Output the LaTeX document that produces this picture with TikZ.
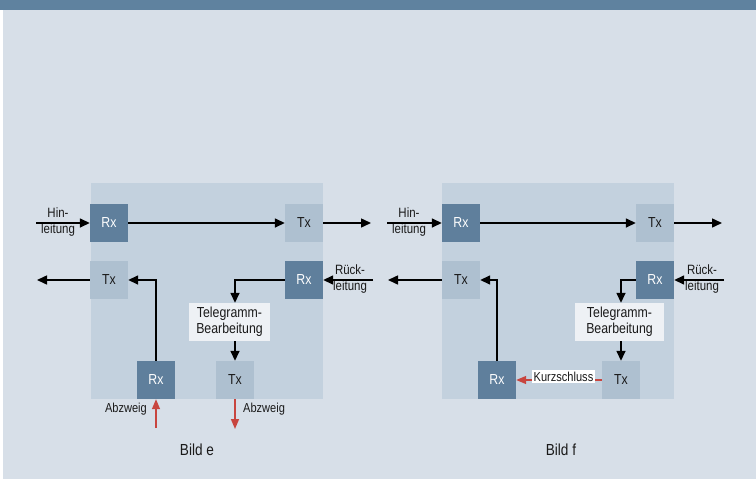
\documentclass[tikz,border=0pt]{standalone}
\usepackage{fontspec}
\setmainfont{Liberation Sans}[FakeStretch=0.85]
\usetikzlibrary{arrows.meta}
\definecolor{band}{HTML}{5F829F}
\definecolor{bg}{HTML}{D7DFE8}
\definecolor{panel}{HTML}{C3D1DE}
\definecolor{darkb}{HTML}{5F7F9C}
\definecolor{lightb}{HTML}{AEC0D0}
\definecolor{telefill}{HTML}{EEF1F5}
\definecolor{redarr}{HTML}{C8453F}
\definecolor{txt}{HTML}{1A1A1A}
\tikzset{
  darkbox/.style={fill=darkb, text=white, minimum width=38pt, minimum height=38pt, inner sep=0pt, font=\fontsize{14.5}{15}\selectfont},
  lightbox/.style={fill=lightb, text=txt, minimum width=38pt, minimum height=38pt, inner sep=0pt, font=\fontsize{14.5}{15}\selectfont},
  telebox/.style={fill=telefill, text=txt, minimum height=38pt, inner sep=0pt, align=center, font=\fontsize{14.5}{16}\selectfont},
  lbl/.style={text=txt, inner sep=0pt, align=center, font=\fontsize{13.5}{16.5}\selectfont},
  small/.style={text=txt, inner sep=0pt, font=\fontsize{13}{14}\selectfont},
  title/.style={text=txt, inner sep=0pt, font=\fontsize{16}{17}\selectfont},
  arr/.style={line width=1.5pt, draw=black, -{Triangle[length=10pt,width=9pt]}},
  rarr/.style={line width=1.5pt, draw=redarr, -{Triangle[length=10pt,width=8pt]}},
}
\begin{document}
\begin{tikzpicture}[x=1pt,y=-1pt]
\useasboundingbox (0,0) rectangle (756,479);
\fill[white] (0,0) rectangle (756,479);
\fill[bg] (3,10) rectangle (756,479);
\fill[band] (0,0) rectangle (756,10);
% ---------- panel e ----------
\fill[panel] (91,183) rectangle (323,399);
\node[darkbox]  (rxA) at (109,223) {Rx};
\node[lightbox] (txA) at (304,223) {Tx};
\node[lightbox] (txB) at (109,280) {Tx};
\node[darkbox]  (rxB) at (304,280) {Rx};
\node[telebox, minimum width=81pt] (teleE) at (229.5,322) {Telegramm-\\Bearbeitung};
\node[darkbox]  (rxC) at (156,380) {Rx};
\node[lightbox] (txC) at (235,380) {Tx};
\coordinate (hinE) at (36,223);
\coordinate (outE) at (371,223);
\coordinate (leftE) at (37,280);
\coordinate (rueckE) at (373,280);
\coordinate (abzInE) at (156,428);
\coordinate (abzOutE) at (235,429);
\node[lbl] (hinlblE) at (58,222) {Hin-\\leitung};
\node[lbl] (ruecklblE) at (350,279) {Rück-\\leitung};
\draw[arr] (hinE) -- (rxA);
\draw[arr] (rxA) -- (txA);
\draw[arr] (txA) -- (outE);
\draw[arr] (txB) -- (leftE);
\draw[arr] (rxC.north) |- (txB.east);
\draw[arr] (rueckE) -- (rxB.east);
\draw[arr] (rxB.west) -| (txC.center |- teleE.north);
\draw[arr] (txC.center |- teleE.south) -- (txC.north);
\draw[rarr] (abzInE) -- (rxC.south);
\draw[rarr] (txC.south) -- (abzOutE);
\node[small, anchor=east] (abzlblA) at (147,409) {Abzweig};
\node[small, anchor=west] (abzlblB) at (243,409) {Abzweig};
\node[title] (bildE) at (197,450) {Bild e};
% ---------- panel f ----------
\fill[panel] (442,183) rectangle (674,399);
\node[darkbox]  (rxAf) at (461,223) {Rx};
\node[lightbox] (txAf) at (655,223) {Tx};
\node[lightbox] (txBf) at (461,280) {Tx};
\node[darkbox]  (rxBf) at (655,280) {Rx};
\node[telebox, minimum width=89pt] (teleF) at (619.5,322) {Telegramm-\\Bearbeitung};
\node[darkbox]  (rxCf) at (497,380) {Rx};
\node[lightbox] (txCf) at (621,380) {Tx};
\coordinate (hinF) at (387,223);
\coordinate (outF) at (722,223);
\coordinate (leftF) at (388,280);
\coordinate (rueckF) at (724,280);
\node[lbl] (hinlblF) at (409,222) {Hin-\\leitung};
\node[lbl] (ruecklblF) at (702,279) {Rück-\\leitung};
\draw[arr] (hinF) -- (rxAf);
\draw[arr] (rxAf) -- (txAf);
\draw[arr] (txAf) -- (outF);
\draw[arr] (txBf) -- (leftF);
\draw[arr] (rxCf.north) |- (txBf.east);
\draw[arr] (rueckF) -- (rxBf.east);
\draw[arr] (rxBf.west) -| (txCf.center |- teleF.north);
\draw[arr] (txCf.center |- teleF.south) -- (txCf.north);
\draw[rarr] (txCf.west) -- (rxCf.east);
\node[small, fill=white, inner sep=2pt] (kurz) at (563.5,376.5) {Kurzschluss};
\node[title] (bildF) at (561,450) {Bild f};
\end{tikzpicture}
\end{document}
